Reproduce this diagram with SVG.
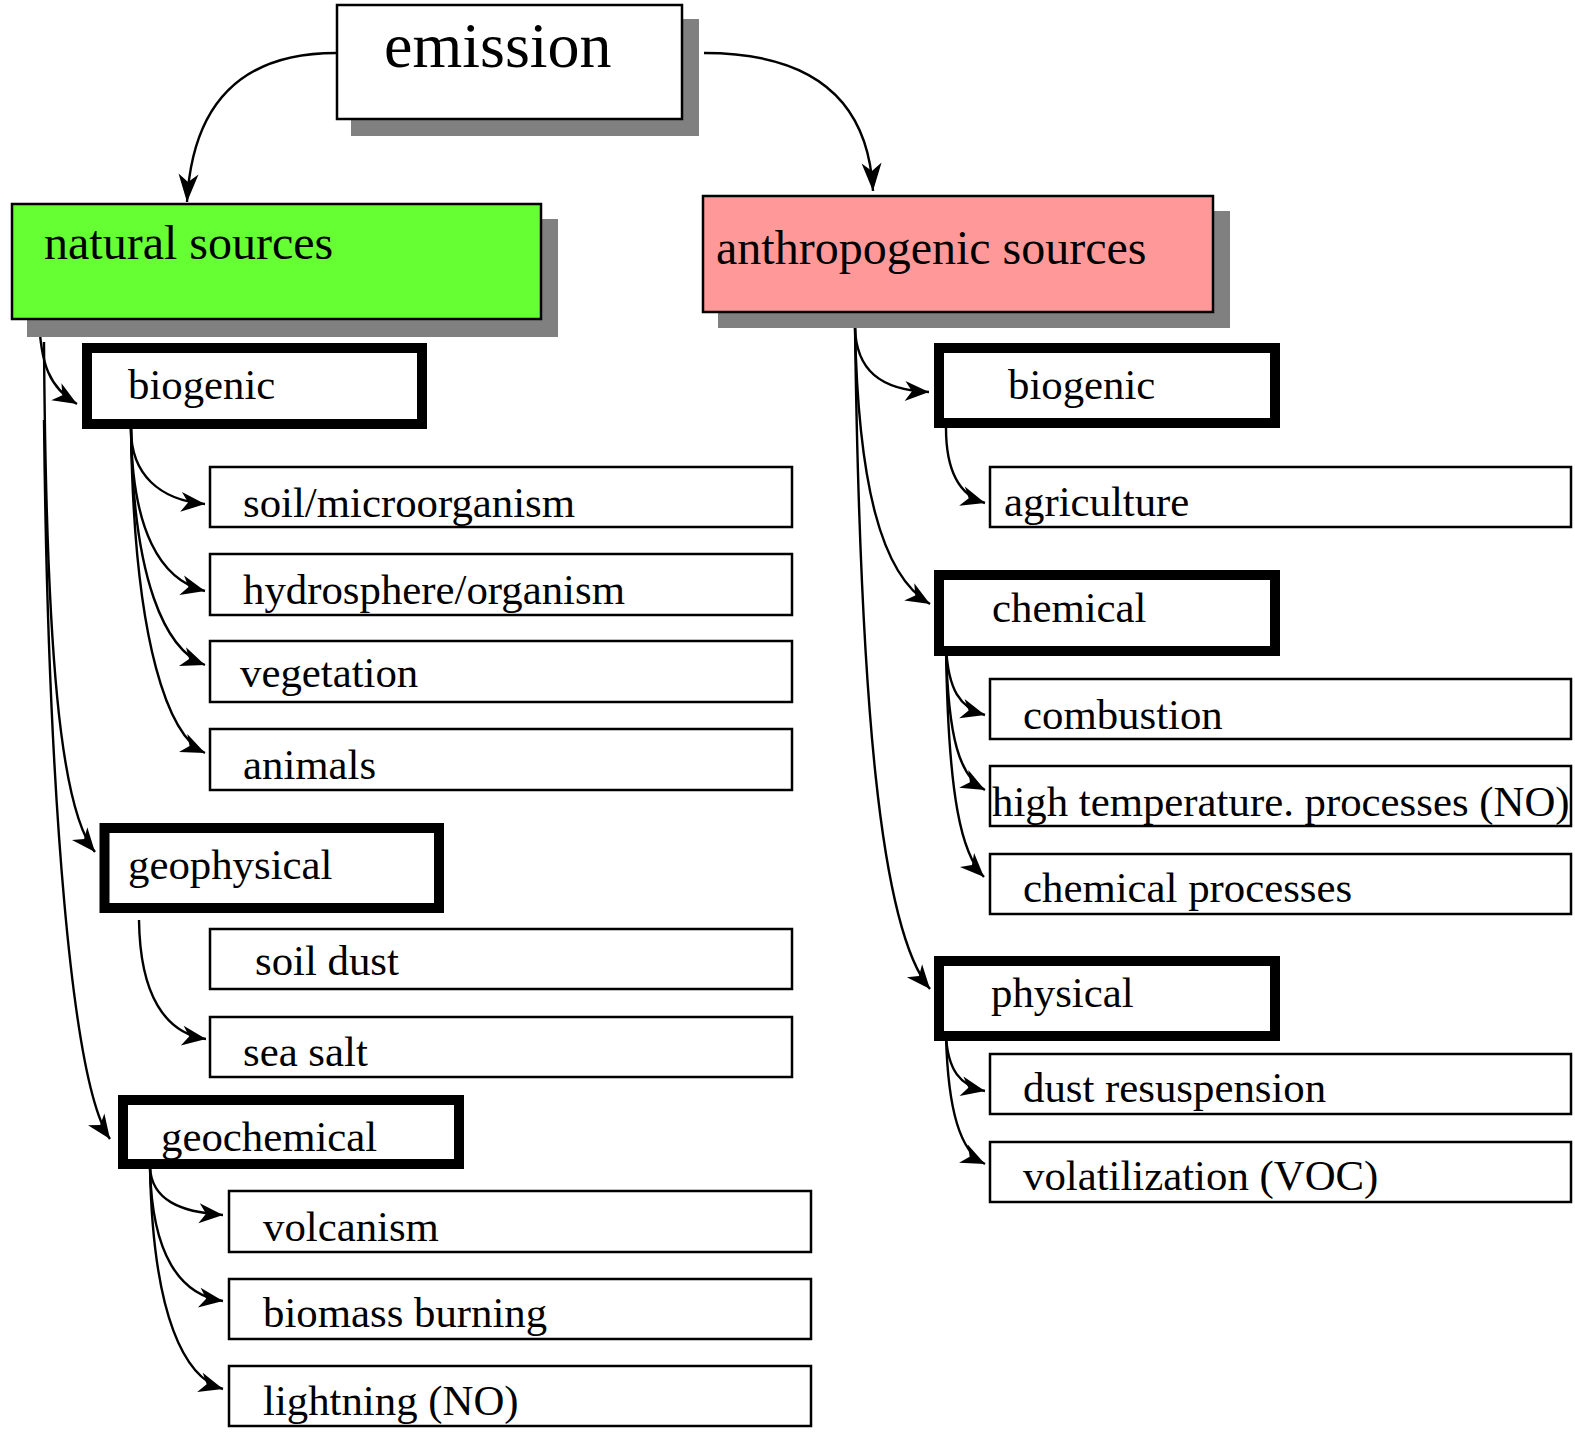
<svg xmlns="http://www.w3.org/2000/svg" width="1575" height="1432" viewBox="0 0 1575 1432">
<style>
text{font-family:"Liberation Serif","Times New Roman",serif;fill:#000}
.t43{font-size:42.8px}
.t48{font-size:48px}
.t64{font-size:64px}
.shadow{fill:#808080;stroke:none}
.main{stroke:#000;stroke-width:2.5}
.thick{fill:#fff;stroke:#000;stroke-width:10}
.thin{fill:#fff;stroke:#000;stroke-width:2.5}
.conn path{fill:none;stroke:#000;stroke-width:2.4;marker-end:url(#ah)}
.conn path.big{marker-end:url(#ahL)}
</style>
<defs>
<marker id="ah" markerUnits="userSpaceOnUse" viewBox="-25 -11 26 22" markerWidth="26" markerHeight="22" refX="0" refY="0" orient="auto">
<path d="M0,0 L-24,-10 L-17,0 L-24,10 Z" fill="#000"/>
</marker>
<marker id="ahL" markerUnits="userSpaceOnUse" viewBox="-29 -11 30 22" markerWidth="30" markerHeight="22" refX="0" refY="0" orient="auto">
<path d="M0,0 L-28,-10 L-20,0 L-28,10 Z" fill="#000"/>
</marker>
</defs>
<rect width="1575" height="1432" fill="#fff"/>

<g id="connectors" class="conn">
<path class="big" d="M336,53 Q195,53 187,202"/>
<path class="big" d="M704,53 Q866,53 873,191"/>
<path d="M39,315 C40,365 50,388 77,404"/>
<path d="M44,342 C46,650 60,810 95,852"/>
<path d="M44,420 C48,800 72,1085 110,1139"/>
<path d="M131,429 C131,475 160,500 205,504"/>
<path d="M131,429 C132,530 160,580 205,591"/>
<path d="M131,429 C133,580 165,650 205,665"/>
<path d="M131,429 C134,650 170,737 205,753"/>
<path d="M139,920 C140,995 165,1033 206,1039"/>
<path d="M150,1168 C152,1200 180,1212 223,1215"/>
<path d="M150,1168 C152,1255 180,1295 223,1301"/>
<path d="M150,1168 C153,1318 185,1378 223,1389"/>
<path d="M855,327 C856,370 880,390 929,392"/>
<path d="M855,327 C858,480 880,575 930,604"/>
<path d="M855,327 C860,700 880,930 930,989"/>
<path d="M946,428 C946,470 958,495 985,503"/>
<path d="M946,646 C948,690 960,708 985,715"/>
<path d="M946,646 C948,740 960,777 985,790"/>
<path d="M946,646 C948,800 962,855 984,877"/>
<path d="M946,1036 C948,1070 960,1086 985,1091"/>
<path d="M946,1036 C948,1110 960,1152 985,1164"/>
</g>

<g id="emission">
<rect class="shadow" x="351" y="19" width="348" height="117"/>
<rect class="main" x="337" y="5" width="345" height="114" fill="#fff"/>
<text class="t64" x="384" y="67">emission</text>
</g>

<g id="natural-sources">
<rect class="shadow" x="27" y="219" width="531" height="118"/>
<rect class="main" x="12" y="204" width="529" height="115" fill="#66ff33"/>
<text class="t48" x="44" y="259">natural sources</text>
</g>

<g id="anthropogenic-sources">
<rect class="shadow" x="718" y="211" width="512" height="117"/>
<rect class="main" x="703" y="196" width="510" height="116" fill="#ff9999"/>
<text class="t48" x="716" y="264">anthropogenic sources</text>
</g>

<g id="nat-biogenic">
<rect class="thick" x="87" y="348" width="335" height="76"/>
<text class="t43" x="128" y="399">biogenic</text>
</g>
<g id="soil-microorganism">
<rect class="thin" x="210" y="467" width="582" height="60"/>
<text class="t43" x="243" y="517">soil/microorganism</text>
</g>
<g id="hydrosphere-organism">
<rect class="thin" x="210" y="554" width="582" height="61"/>
<text class="t43" x="243" y="604">hydrosphere/organism</text>
</g>
<g id="vegetation">
<rect class="thin" x="210" y="641" width="582" height="61"/>
<text class="t43" x="240" y="687">vegetation</text>
</g>
<g id="animals">
<rect class="thin" x="210" y="729" width="582" height="61"/>
<text class="t43" x="243" y="779">animals</text>
</g>

<g id="geophysical">
<rect class="thick" x="104.5" y="828" width="334.5" height="80"/>
<text class="t43" x="128" y="879">geophysical</text>
</g>
<g id="soil-dust">
<rect class="thin" x="210" y="929" width="582" height="60"/>
<text class="t43" x="255" y="975">soil dust</text>
</g>
<g id="sea-salt">
<rect class="thin" x="210" y="1017" width="582" height="60"/>
<text class="t43" x="243" y="1066">sea salt</text>
</g>

<g id="geochemical">
<rect class="thick" x="123" y="1100" width="336" height="64"/>
<text class="t43" x="161" y="1151">geochemical</text>
</g>
<g id="volcanism">
<rect class="thin" x="229" y="1191" width="582" height="61"/>
<text class="t43" x="263" y="1241">volcanism</text>
</g>
<g id="biomass-burning">
<rect class="thin" x="229" y="1279" width="582" height="60"/>
<text class="t43" x="263" y="1327">biomass burning</text>
</g>
<g id="lightning">
<rect class="thin" x="229" y="1366" width="582" height="60"/>
<text class="t43" x="263" y="1415">lightning (NO)</text>
</g>

<g id="anth-biogenic">
<rect class="thick" x="939" y="348" width="336" height="75"/>
<text class="t43" x="1008" y="399">biogenic</text>
</g>
<g id="agriculture">
<rect class="thin" x="990" y="467" width="581" height="60"/>
<text class="t43" x="1004" y="516">agriculture</text>
</g>

<g id="chemical">
<rect class="thick" x="939" y="575" width="336" height="76"/>
<text class="t43" x="992" y="622">chemical</text>
</g>
<g id="combustion">
<rect class="thin" x="990" y="679" width="581" height="60"/>
<text class="t43" x="1023" y="729">combustion</text>
</g>
<g id="high-temperature">
<rect class="thin" x="990" y="766" width="581" height="60"/>
<text class="t43" x="992" y="816">high temperature. processes (NO)</text>
</g>
<g id="chemical-processes">
<rect class="thin" x="990" y="854" width="581" height="60"/>
<text class="t43" x="1023" y="902">chemical processes</text>
</g>

<g id="physical">
<rect class="thick" x="939" y="961" width="336" height="75"/>
<text class="t43" x="991" y="1007">physical</text>
</g>
<g id="dust-resuspension">
<rect class="thin" x="990" y="1054" width="581" height="60"/>
<text class="t43" x="1023" y="1102">dust resuspension</text>
</g>
<g id="volatilization">
<rect class="thin" x="990" y="1142" width="581" height="60"/>
<text class="t43" x="1023" y="1190">volatilization (VOC)</text>
</g>
</svg>
